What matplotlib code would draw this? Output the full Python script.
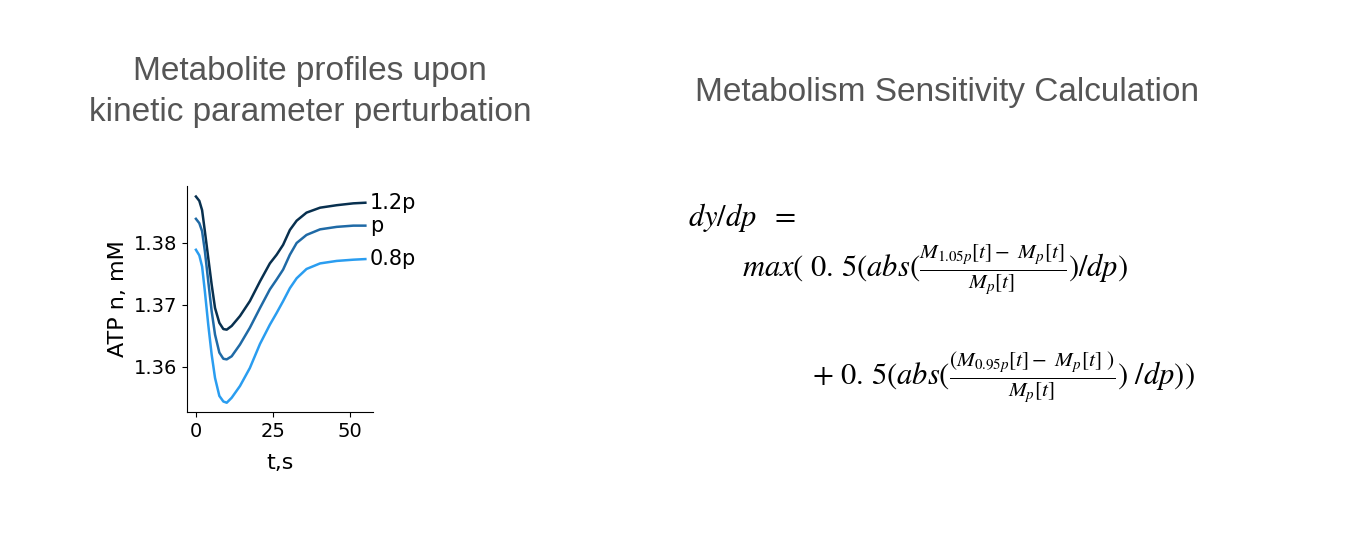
import matplotlib
matplotlib.use("Agg")
import matplotlib.pyplot as plt

plt.rcParams.update({
    "mathtext.fontset": "stix",
})

# data
t = [0, 1.1, 2.0, 2.9, 4.0, 5.1, 6.2, 7.6, 8.9, 10.0, 11.6, 14.3, 17.5,
     20.8, 24.0, 26.2, 28.3, 30.5, 32.7, 35.9, 40.3, 45.7, 51.1, 55.0]
atp_12 = [1.3875, 1.3868, 1.3853, 1.3819, 1.3776, 1.3733, 1.3695, 1.3671,
          1.3661, 1.3660, 1.3666, 1.3682, 1.3706, 1.3738, 1.3767, 1.3781,
          1.3797, 1.3821, 1.3836, 1.3849, 1.3857, 1.3861, 1.3864, 1.3865]
atp_10 = [1.3839, 1.3832, 1.3819, 1.3787, 1.3738, 1.3690, 1.3652, 1.3623,
          1.3613, 1.3612, 1.3617, 1.3636, 1.3663, 1.3695, 1.3725, 1.3741,
          1.3757, 1.3781, 1.3800, 1.3813, 1.3822, 1.3826, 1.3828, 1.3828]
atp_08 = [1.3789, 1.3780, 1.3762, 1.3722, 1.3668, 1.3620, 1.3582, 1.3553,
          1.3544, 1.3542, 1.3550, 1.3569, 1.3598, 1.3637, 1.3668, 1.3687,
          1.3706, 1.3727, 1.3743, 1.3758, 1.3767, 1.3771, 1.3773, 1.3774]
labels = ["1.2p", "p", "0.8p"]
colors = ["#08304f", "#1f6aa6", "#2a9df0"]

fig = plt.figure(figsize=(13.6, 5.39), dpi=100)
ax = fig.add_axes([0.1375, 0.2356, 0.1368, 0.4193])

for y, lab, c in zip([atp_12, atp_10, atp_08], labels, colors):
    ax.plot(t, y, color=c, lw=1.8)
    ax.text(t[-1] + 1.5, y[-1], lab, fontsize=15, va="center", ha="left")

ax.set_xlim(-2.9, 57.5)
ax.set_ylim(1.3527, 1.3892)
ax.set_xticks([0, 25, 50])
ax.set_yticks([1.36, 1.37, 1.38])
ax.tick_params(labelsize=14)
ax.set_xlabel("t,s", fontsize=16, labelpad=9)
ax.set_ylabel("ATP n, mM", fontsize=16)
ax.spines["top"].set_visible(False)
ax.spines["right"].set_visible(False)

title_font = dict(family="Liberation Sans", fontsize=24, color="#555555",
                  ha="center", va="center")
fig.text(310 / 1360, 1 - 92 / 539,
         "Metabolite profiles upon\nkinetic parameter perturbation",
         linespacing=1.38, **title_font)
fig.text(947 / 1360, 1 - 92 / 539, "Metabolism Sensitivity Calculation",
         **title_font)

fs_eq = 22
fig.text(688 / 1360, 1 - 218 / 539, r"$dy/dp\ \ =$", fontsize=fs_eq,
         ha="left", va="center")
fig.text(742 / 1360, 1 - 270 / 539,
         r"$max(\ 0.\,5(abs(\frac{M_{1.05p}[t]-\ M_{p}[t]}{M_{p}[t]})/dp)$",
         fontsize=fs_eq, ha="left", va="center")
fig.text(812 / 1360, 1 - 378 / 539,
         r"$+\ 0.\,5(abs(\frac{(M_{0.95p}[t]-\ M_{p}[t]\ )}{M_{p}[t]})\ /dp))$",
         fontsize=fs_eq, ha="left", va="center")

fig.savefig("out.png", dpi=100)
